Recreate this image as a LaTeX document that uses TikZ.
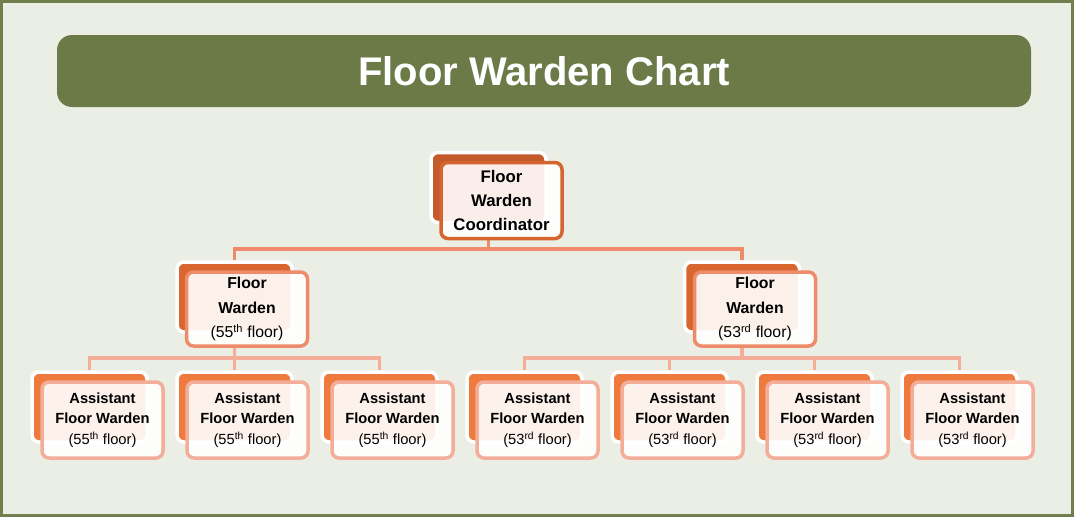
\documentclass[tikz,border=0pt]{standalone}
\usepackage{fontspec}
\setmainfont{Liberation Sans}
\usetikzlibrary{backgrounds}
\definecolor{bgc}{HTML}{EBEEE5}
\definecolor{framec}{HTML}{717F4F}
\definecolor{titlec}{HTML}{6C7A48}
\definecolor{backA}{HTML}{C4592A}
\definecolor{lineA}{HTML}{D5652F}
\definecolor{backB}{HTML}{D9662E}
\definecolor{lineB}{HTML}{EE8B6A}
\definecolor{backC}{HTML}{EE7A3D}
\definecolor{lineC}{HTML}{F3AD98}
\tikzset{
  backbox/.style={draw=white, line width=3.5pt, rounded corners=7pt,
    minimum width=115pt, minimum height=70pt, inner sep=0pt},
  frontbox/.style={line width=3.5pt, rounded corners=7pt, fill=white,
    fill opacity=0.9, text opacity=1, minimum width=121pt,
    minimum height=76pt, align=center, inner sep=0pt, text=black},
  backtop/.style={backbox, fill=backA},
  backmid/.style={backbox, fill=backB},
  backlow/.style={backbox, fill=backC},
  fronttop/.style={frontbox, draw=lineA, font=\fontsize{16.8}{24}\selectfont},
  frontmid/.style={frontbox, draw=lineB, minimum height=74pt, font=\fontsize{15.8}{24.5}\selectfont},
  frontlow/.style={frontbox, draw=lineC, font=\fontsize{14.7}{20.5}\selectfont},
  connA/.style={draw=lineB, line width=3.7pt},
  connB/.style={draw=lineC, line width=3.7pt},
}
\begin{document}
\begin{tikzpicture}[x=1pt,y=-1pt]
\useasboundingbox (0,0) rectangle (1074,517);
% title
\node[fill=titlec, rounded corners=15pt, minimum width=974pt, minimum height=72pt,
  inner sep=0pt, text=white, font=\fontsize{40}{44}\selectfont\bfseries] (title)
  at (544,71) {Floor Warden Chart};

% back boxes
\node[backtop] (b0) at (488.5,187.5) {};
\node[backmid] (b1) at (234.5,297) {};
\node[backmid] (b2) at (742,297) {};
\node[backlow] (b3) at (89.5,407) {};
\node[backlow] (b4) at (234.5,407) {};
\node[backlow] (b5) at (379.5,407) {};
\node[backlow] (b6) at (524.5,407) {};
\node[backlow] (b7) at (669.5,407) {};
\node[backlow] (b8) at (814.5,407) {};
\node[backlow] (b9) at (959.5,407) {};

% junctions
\coordinate (j0) at (488.5,249);
\coordinate (j1) at (234.5,358);
\coordinate (j2) at (742,358);

% front boxes
\node[fronttop] (f0) at (501.5,200.5) {\textbf{Floor}\\\textbf{Warden}\\\textbf{Coordinator}};
\node[frontmid] (f1) at (247,309) {\textbf{Floor}\\\textbf{Warden}\\(55\textsuperscript{th} floor)};
\node[frontmid] (f2) at (755,309) {\textbf{Floor}\\\textbf{Warden}\\(53\textsuperscript{rd} floor)};
\node[frontlow] (f3) at (102.5,420) {\textbf{Assistant}\\\textbf{Floor Warden}\\(55\textsuperscript{th} floor)};
\node[frontlow] (f4) at (247.5,420) {\textbf{Assistant}\\\textbf{Floor Warden}\\(55\textsuperscript{th} floor)};
\node[frontlow] (f5) at (392.5,420) {\textbf{Assistant}\\\textbf{Floor Warden}\\(55\textsuperscript{th} floor)};
\node[frontlow] (f6) at (537.5,420) {\textbf{Assistant}\\\textbf{Floor Warden}\\(53\textsuperscript{rd} floor)};
\node[frontlow] (f7) at (682.5,420) {\textbf{Assistant}\\\textbf{Floor Warden}\\(53\textsuperscript{rd} floor)};
\node[frontlow] (f8) at (827.5,420) {\textbf{Assistant}\\\textbf{Floor Warden}\\(53\textsuperscript{rd} floor)};
\node[frontlow] (f9) at (972.5,420) {\textbf{Assistant}\\\textbf{Floor Warden}\\(53\textsuperscript{rd} floor)};

\begin{pgfonlayer}{background}
  \draw[line width=3pt, draw=framec, fill=bgc] (1.5,1.5) rectangle (1072.5,515.5);
  % level 1 -> 2
  \draw[connA] (b0.center |- f0.south) -- (j0);
  \draw[connA] (b1.north) |- (j0) -| (b2.north);
  % level 2 -> 3 (55th)
  \draw[connB] (b1.center |- f1.south) -- (j1);
  \draw[connB] (b3.north) |- (j1) -| (b5.north);
  \draw[connB] (j1) -- (b4.north);
  % level 2 -> 3 (53rd)
  \draw[connB] (b2.center |- f2.south) -- (j2);
  \draw[connB] (b6.north) |- (j2) -| (b9.north);
  \draw[connB] (b7.north) -- (b7.north |- j2);
  \draw[connB] (b8.north) -- (b8.north |- j2);
\end{pgfonlayer}
\end{tikzpicture}
\end{document}
